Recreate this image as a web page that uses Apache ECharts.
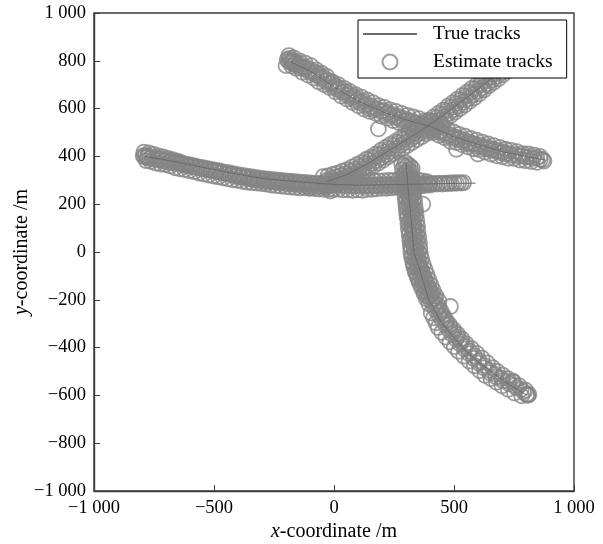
<!DOCTYPE html>
<html>
<head>
<meta charset="utf-8">
<script src="https://cdn.jsdelivr.net/npm/echarts@6/dist/echarts.min.js"></script>
<style>
html, body { margin: 0; padding: 0; background: #fff; }
#trackChart { width: 603px; height: 544px; }
</style>
</head>
<body>
<div id="trackChart"></div>
<script>
// true tracks (waypoints, m)
var trueTrackA = [[-190,800],[-100,758],[0,690],[100,632],[200,587],[300,553],[400,525],[500,482],[600,450],[700,420],[800,400],[880,385]];
var trueTrackB = [[-790,400],[-700,385],[-600,365],[-500,345],[-400,325],[-300,308],[-200,298],[-100,290],[0,283],[100,280],[200,281],[300,283],[400,285],[500,287],[590,288]];
var trueTrackC = [[-30,295],[50,322],[150,375],[250,437],[350,500],[450,568],[550,644],[650,721],[760,805]];
var trueTrackD = [[300,375],[310,250],[325,100],[333,0],[365,-100],[395,-200],[450,-300],[535,-400],[605,-464],[720,-548],[805,-600]];

// estimated positions (m)
var estTrackA = [[-200,780],[-195,805],[-190,798],[-185,810],[-182,795],[-178,802],[-175,790],[-170,800],[-165,785],[-160,792],
  [-152,780],[-145,788],[-138,770],[-130,776],[-122,765],[-115,772],[-105,755],[-98,762],[-90,748],[-80,752],
  [-72,738],[-62,742],[-55,728],[-45,730],[-38,715],[-28,720],[-20,705],[-10,708],[0,690],[8,695],
  [15,680],[25,684],[35,668],[45,672],[55,655],[62,662],[72,645],[82,650],[92,632],[100,640],
  [110,625],[120,630],[130,612],[140,618],[150,600],[158,608],[168,595],[178,600],[185,515],[195,588],
  [205,592],[215,578],[225,584],[235,570],[245,575],[255,562],[265,568],[275,555],[285,560],[295,548],
  [305,554],[315,542],[325,548],[335,536],[345,540],[355,530],[365,535],[375,524],[385,528],[395,518],
  [405,522],[415,510],[425,515],[435,502],[445,506],[455,494],[465,498],[475,485],[485,490],[495,476],
  [505,482],[510,430],[515,470],[525,475],[535,462],[545,468],[555,455],[565,460],[575,450],[585,452],
  [595,442],[600,410],[605,448],[615,438],[625,442],[635,432],[645,436],[655,426],[665,430],[675,420],
  [685,424],[695,415],[705,419],[715,410],[725,413],[740,405],[755,408],[770,400],[785,403],[800,396],
  [815,398],[830,392],[845,394],[860,388],[870,386],
  [-188,822],[-176,778],[-168,812],[-156,768],[-144,800],[-132,752],[-120,790],[-108,740],[-96,780],[-84,728],
  [-74,762],[-64,712],[-52,748],[-40,700],[-30,735],[-18,688],[-6,712],[6,670],[18,700],[30,652],
  [42,685],[54,640],[66,672],[78,625],[90,658],[102,612],[114,648],[126,598],[138,636],[150,588],
  [162,625],[174,580],[186,612],[198,568],[210,605],[222,560],[234,595],[246,550],[258,588],[270,542],
  [282,580],[294,535],[306,572],[318,525],[330,565],[342,520],[354,558],[366,512],[378,548],[390,505],
  [402,545],[414,500],[426,535],[438,488],[450,525],[462,478],[474,512],[486,462],[498,502],[510,458],
  [522,492],[534,448],[546,485],[558,440],[570,475],[582,432],[594,468],[606,428],[618,460],[630,418],
  [642,452],[654,410],[666,445],[678,402],[690,438],[702,398],[714,430],[726,392],[738,425],[750,392],
  [762,420],[774,385],[786,412],[798,382],[810,410],[822,378],[834,405],[846,375],[858,400],[875,380]];
var estTrackB = [[-795,402],[-790,398],[-785,405],[-780,395],[-775,400],[-768,392],[-760,398],[-750,388],[-740,395],[-730,385],
  [-720,390],[-710,380],[-700,386],[-690,376],[-680,382],[-670,372],[-660,378],[-650,370],[-640,374],[-630,365],
  [-620,368],[-610,360],[-600,364],[-590,356],[-580,360],[-570,352],[-560,355],[-550,348],[-540,352],[-530,344],
  [-520,348],[-510,340],[-500,343],[-490,336],[-480,340],[-470,332],[-460,335],[-450,328],[-440,332],[-430,324],
  [-420,328],[-410,320],[-400,324],[-390,316],[-380,320],[-370,313],[-360,317],[-350,310],[-340,314],[-330,307],
  [-320,311],[-310,304],[-300,308],[-290,302],[-280,306],[-270,300],[-260,304],[-250,298],[-240,302],[-230,296],
  [-220,300],[-210,294],[-200,298],[-190,292],[-180,296],[-170,290],[-160,294],[-150,288],[-140,292],[-130,287],
  [-120,291],[-110,285],[-100,268],[-100,289],[-90,284],[-80,288],[-70,283],[-60,287],[-50,282],[-40,286],
  [-30,280],[-20,285],[-15,255],[-10,279],[0,284],[10,278],[20,283],[30,278],[40,282],[50,277],
  [60,282],[70,277],[80,281],[90,276],[100,281],[110,277],[120,281],[130,276],[140,280],[150,276],
  [160,281],[170,277],[180,281],[190,277],[200,282],[210,278],[220,282],[230,278],[240,283],[250,279],
  [260,283],[270,279],[280,284],[290,280],[300,284],[310,280],[320,285],[330,281],[340,285],[350,282],
  [360,286],[370,282],[380,286],[390,283],[400,287],[410,283],[420,287],[430,284],[440,288],[450,284],
  [460,288],[470,285],[480,289],[490,286],[500,290],[510,287],[520,290],[530,288],[540,290],
  [-792,418],[-782,382],[-772,415],[-762,378],[-752,408],[-742,372],[-732,402],[-722,368],[-712,398],[-702,366],
  [-692,392],[-682,360],[-672,386],[-662,352],[-652,380],[-642,348],[-632,372],[-622,345],[-612,366],[-602,340],
  [-592,360],[-582,336],[-572,356],[-562,330],[-552,352],[-542,326],[-532,346],[-522,322],[-512,342],[-502,318],
  [-492,338],[-482,314],[-472,332],[-462,310],[-452,328],[-442,306],[-432,324],[-422,302],[-412,318],[-402,300],
  [-392,314],[-382,296],[-372,310],[-362,292],[-352,306],[-342,290],[-332,302],[-322,288],[-312,300],[-302,286],
  [-292,296],[-282,284],[-272,294],[-262,280],[-252,292],[-242,278],[-232,290],[-222,276],[-212,288],[-202,274],
  [-192,286],[-182,272],[-172,284],[-162,270],[-152,282],[-142,268],[-132,280],[-122,268],[-112,278],[-102,266],
  [-92,276],[-82,265],[-72,275],[-62,263],[-52,273],[-42,262],[-32,272],[-22,262],[-12,300],[-2,262],
  [8,298],[18,262],[28,296],[38,260],[48,296],[58,260],[68,295],[78,258],[88,294],[98,260],
  [108,295],[118,258],[128,294],[138,262],[148,296],[158,262],[168,297],[178,264],[188,298],[198,266],
  [208,298],[218,266],[228,300],[238,268],[248,300],[258,270],[268,302],[278,270],[288,302],[298,272],
  [308,304],[318,272],[328,304],[338,272],[348,302],[358,276],[368,298],[378,278],[388,294],[398,280]];
var estTrackC = [[-40,288],[-30,300],[-20,292],[-10,308],[0,298],[10,314],[20,304],[30,320],[40,311],[50,328],
  [60,320],[70,338],[80,328],[90,347],[100,338],[110,358],[120,350],[130,370],[140,360],[150,382],
  [160,372],[170,395],[180,383],[190,407],[200,395],[210,419],[220,408],[230,432],[240,422],[250,445],
  [260,433],[270,458],[280,447],[290,470],[300,460],[310,482],[320,472],[330,495],[340,485],[350,508],
  [360,498],[370,521],[380,510],[390,533],[400,522],[410,547],[420,538],[430,562],[440,552],[450,576],
  [460,566],[470,591],[480,581],[490,606],[500,596],[510,621],[520,612],[530,637],[540,627],[550,652],
  [560,642],[570,667],[580,658],[590,683],[600,673],[610,698],[620,688],[630,714],[640,704],[650,729],
  [660,720],[670,745],[680,736],[690,761],[700,752],[710,777],[720,768],[730,793],[740,784],[750,805],
  [-45,315],[-35,275],[-25,318],[-15,282],[-5,325],[5,288],[15,330],[25,292],[35,338],[45,300],
  [55,345],[65,306],[75,355],[85,314],[95,365],[105,325],[115,375],[125,335],[135,388],[145,350],
  [155,398],[165,362],[175,410],[185,372],[195,425],[205,385],[215,438],[225,398],[235,450],[245,410],
  [255,462],[265,422],[275,475],[285,432],[295,488],[305,445],[315,500],[325,458],[335,512],[345,470],
  [355,525],[365,482],[375,538],[385,495],[395,552],[405,510],[415,565],[425,525],[435,580],[445,540],
  [455,594],[465,555],[475,610],[485,570],[495,625],[505,585],[515,640],[525,600],[535,655],[545,615],
  [555,670],[565,630],[575,685],[585,645],[595,700],[605,662],[615,715],[625,678],[635,730],[645,695],
  [655,745],[665,710],[675,760],[685,725],[695,778],[705,742],[715,795],[725,758],[735,810],[745,775],[755,822]];
var estTrackD = [[298,375],[308,365],[300,355],[310,345],[302,335],[312,325],[304,315],[314,305],[305,295],[315,285],
  [306,275],[316,265],[308,255],[318,245],[310,235],[320,225],[311,215],[322,205],[370,200],[313,195],
  [324,185],[315,175],[326,165],[318,155],[328,145],[320,135],[330,125],[322,115],[332,105],[325,95],
  [335,85],[327,75],[337,65],[329,55],[339,45],[331,35],[341,25],[333,15],[343,5],[335,-5],
  [346,-15],[338,-25],[350,-35],[342,-45],[355,-55],[348,-65],[362,-75],[355,-85],[370,-95],[362,-105],
  [378,-115],[370,-125],[386,-135],[378,-145],[394,-155],[386,-165],[403,-175],[395,-185],[412,-195],[404,-205],
  [422,-215],[414,-225],[485,-228],[432,-235],[425,-245],[444,-255],[437,-265],[457,-275],[450,-285],[470,-295],
  [464,-305],[484,-315],[478,-325],[498,-335],[493,-345],[514,-355],[509,-365],[530,-375],[526,-385],[548,-395],
  [543,-405],[566,-415],[562,-425],[585,-435],[581,-445],[605,-455],[602,-465],[626,-475],[624,-485],[648,-495],
  [648,-505],[672,-512],[675,-522],[698,-528],[702,-538],[725,-542],[745,-540],[730,-552],[752,-558],[760,-568],
  [780,-575],[790,-585],[805,-595],[808,-600],[803,-598],
  [282,368],[318,358],[285,345],[322,335],[288,322],[325,312],[290,300],[328,290],[292,278],[330,268],
  [294,255],[332,245],[296,232],[335,222],[298,210],[337,200],[300,188],[340,178],[302,165],[342,155],
  [305,142],[345,132],[308,118],[348,108],[310,95],[350,85],[313,72],[353,62],[316,48],[356,38],
  [318,25],[358,15],[320,2],[360,-8],[323,-20],[365,-30],[328,-42],[372,-52],[333,-64],[380,-74],
  [340,-86],[388,-96],[348,-108],[396,-118],[356,-130],[405,-140],[365,-152],[414,-162],[375,-174],[425,-184],
  [385,-196],[437,-206],[396,-218],[435,-225],[405,-255],[445,-245],[415,-275],[456,-265],[425,-296],[466,-284],
  [434,-316],[481,-304],[449,-336],[498,-324],[466,-356],[515,-344],[483,-376],[533,-364],[501,-396],[551,-384],
  [519,-416],[573,-404],[541,-436],[595,-424],[563,-456],[617,-444],[585,-476],[639,-464],[607,-496],[661,-484],
  [629,-516],[680,-500],[654,-530],[703,-515],[677,-545],[724,-530],[700,-560],[748,-545],[726,-575],[772,-560],
  [752,-590],[798,-578],[782,-602],[812,-596],
  [292,360],[326,350],[295,330],[320,318],[296,305],[324,280],[300,262],[326,240],[303,220],[330,210],
  [305,190],[334,172],[308,150],[336,140],[312,120],[340,100],[315,80],[344,70],[318,55],[348,40],
  [322,20],[352,0],[326,-15],[356,-40],[332,-55],[362,-65],[338,-80],[370,-90],[346,-100],[378,-108],
  [355,-120],[386,-128],[366,-142],[396,-150],[376,-165],[408,-172],[388,-185],[420,-195]];

var FontName = '"Liberation Serif", "Times New Roman", serif';
var FontColor = '#000';
var AxisColor = '#3a3a3a';

function fmtNum(v) {
  var s = String(Math.abs(v));
  if (s.length > 3) {
    s = s.slice(0, s.length - 3) + ' ' + s.slice(s.length - 3);
  }
  return (v < 0 ? '\u2212' : '') + s;
}

function estSeries(data) {
  return {
    name: 'Estimate tracks',
    type: 'scatter',
    data: data,
    symbol: 'circle',
    symbolSize: 15,
    itemStyle: {
      color: 'rgba(0,0,0,0)',
      borderColor: '#858585',
      borderWidth: 1.8
    },
    z: 2
  };
}

function trueSeries(data) {
  return {
    name: 'True tracks',
    type: 'line',
    data: data,
    symbol: 'none',
    itemStyle: { color: 'rgba(0,0,0,0)', borderWidth: 0 },
    lineStyle: { color: '#6a6a6a', width: 1 },
    z: 3
  };
}

function axisOpt(name, gap, step) {
  return {
    type: 'value',
    min: -1000,
    max: 1000,
    interval: step,
    name: name,
    nameLocation: 'middle',
    nameGap: gap,
    nameMoveOverlap: false,
    nameTextStyle: {
      fontFamily: FontName, fontSize: 20, color: FontColor,
      rich: { i: { fontStyle: 'italic', fontFamily: FontName, fontSize: 20 } }
    },
    axisLine: { show: true, onZero: false, lineStyle: { color: AxisColor, width: 1.4 } },
    axisTick: { show: true, inside: true, length: 6, lineStyle: { color: AxisColor } },
    axisLabel: { fontFamily: FontName, fontSize: 18.5, color: FontColor, margin: 8, formatter: fmtNum },
    splitLine: { show: false }
  };
}

function showTracks() {
  option = {
    animation: false,
    backgroundColor: '#fff',
    textStyle: { fontFamily: FontName, color: FontColor },
    grid: {
      left: 94,
      top: 13,
      right: 29,
      bottom: 53,
      outerBoundsMode: 'none',
      containLabel: false,
      show: true,
      borderColor: AxisColor,
      borderWidth: 1.4,
      backgroundColor: 'rgba(0,0,0,0)'
    },
    legend: {
      data: ['True tracks', 'Estimate tracks'],
      orient: 'vertical',
      left: 358,
      top: 20,
      padding: [4, 14, 6, 4],
      itemGap: 8,
      itemWidth: 54,
      itemHeight: 15,
      backgroundColor: '#fff',
      borderColor: '#000',
      borderWidth: 1,
      textStyle: { fontFamily: FontName, fontSize: 19.5, color: FontColor, padding: [0, 0, 0, 11] }
    },
    xAxis: axisOpt('{i|x}-coordinate /m', 31, 500),
    yAxis: axisOpt('{i|y}-coordinate /m', 62, 200),
    series: [
      estSeries(estTrackA),
      estSeries(estTrackB),
      estSeries(estTrackC),
      estSeries(estTrackD),
      trueSeries(trueTrackA),
      trueSeries(trueTrackB),
      trueSeries(trueTrackC),
      trueSeries(trueTrackD)
    ]
  };
  var chart = echarts.init(document.getElementById('trackChart'), null, { renderer: 'canvas' });
  chart.setOption(option);
}

showTracks();
</script>
</body>
</html>
